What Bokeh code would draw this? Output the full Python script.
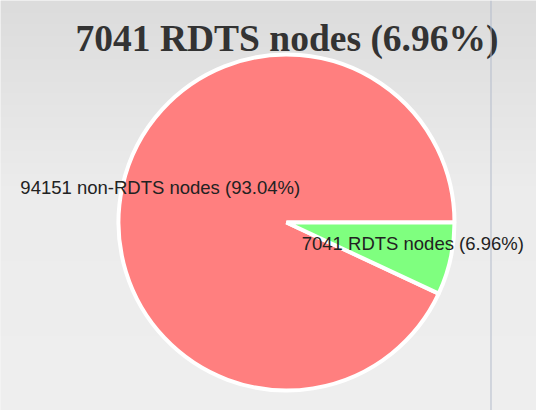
import numpy as np
from bokeh.plotting import figure
from bokeh.models import Range1d, Span, ColumnDataSource
from bokeh.core.properties import value
from bokeh.embed import file_html
from bokeh.resources import INLINE

# ---- data ----
categories = ["non-RDTS nodes", "RDTS nodes"]
counts = [94151, 7041]
colors = ["#ff7f7f", "#7fff7f"]

W, H = 536, 410
p = figure(width=W, height=H, output_backend="svg", toolbar_location=None,
           x_range=Range1d(0, W), y_range=Range1d(0, H), min_border=0)
p.axis.visible = False
p.grid.visible = False
p.outline_line_color = None
p.background_fill_color = "#ececec"
p.border_fill_color = "#ececec"

# background gradient (page y -> gray level)
rows = np.arange(H)
page_y = H - (rows + 0.5)
g = np.interp(page_y, [0, 185, 410], [220, 236, 239]).astype(np.uint32)
img = np.empty((H, W), dtype=np.uint32)
view = img.view(dtype=np.uint8).reshape((H, W, 4))
view[:, :, 0] = g[:, None]
view[:, :, 1] = g[:, None]
view[:, :, 2] = g[:, None]
view[:, :, 3] = 255
p.image_rgba(image=[img], x=0, y=0, dw=W, dh=H)

p.add_layout(Span(location=490.5, dimension="height", line_color="#b3bbcb", line_width=1))

# pie
total = sum(counts)
fracs = [c / total for c in counts]
cx, cy, R = 286, 188, 168
g_start = -fracs[1] * 2 * np.pi
starts = [0.0, g_start]
ends = [2 * np.pi + g_start, 0.0]
src = ColumnDataSource(dict(start=starts, end=ends, color=colors))
p.wedge(x=cx, y=cy, radius=R, start_angle="start", end_angle="end",
        fill_color="color", line_color="white", line_width=4, source=src)

# labels
texts = [f"{c} {cat} ({f*100:.2f}%)" for c, cat, f in zip(counts, categories, fracs)]
mids = [(s + e) / 2 for s, e in zip(starts, ends)]
lx = [cx + 0.77 * R * np.cos(m) for m in mids]
ly = [cy + 0.78 * R * np.sin(m) + 7 for m in mids]
p.text(x=lx, y=ly, text=texts, text_font=value("Liberation Sans"), text_font_size="18.5px",
       text_align="center", text_baseline="alphabetic", text_color="#222222")

# title
title = f"{counts[1]} {categories[1]} ({fracs[1]*100:.2f}%)"
p.text(x=[286.5], y=[372], text=[title], text_font=value("Liberation Serif"),
       text_font_size="37.5px", text_font_style="bold", text_align="center",
       text_baseline="alphabetic", text_color="#333333")

open("out.html", "w").write(file_html(p, INLINE))
